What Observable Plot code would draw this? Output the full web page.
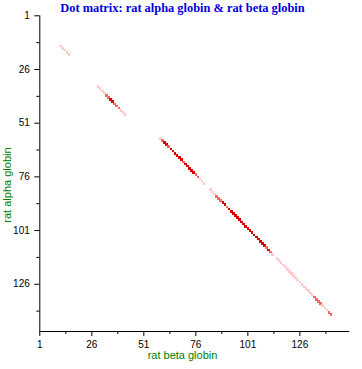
<!DOCTYPE html>
<html><head><meta charset="utf-8">
<script src="https://cdn.jsdelivr.net/npm/d3@7"></script>
<script src="https://cdn.jsdelivr.net/npm/@observablehq/plot@0.6"></script>
<style>body{margin:0;background:#fff} svg{display:block}</style>
</head><body><div id="chart"></div>
<script>
const titleText = "Dot matrix: rat alpha globin & rat beta globin";
const xLabel = "rat beta globin";
const yLabel = "rat alpha globin";
const majorTicks = [1, 26, 51, 76, 101, 126];
const minorTicks = [13.5, 38.5, 63.5, 88.5, 113.5, 138.5];
const xDomain = [1, 150];
const yDomain = [1, 148];
const levelColors = ["#ffcaca", "#ff6464", "#dc0000"];

// residue positions of the matching windows (x: rat beta, y: rat alpha)
const dotX = [
  11,12,13,14,15,
  29,30,31,32,33,34,35,36,37,38,39,40,41,42,
  59,60,61,62,63,64,65,66,67,68,69,70,71,72,73,74,75,76,77,78,79,80,
  83,84,85,86,87,88,89,90,91,92,93,94,95,96,97,98,99,100,101,102,103,104,105,106,107,108,109,110,111,112,113,
  115,116,117,118,119,120,121,122,123,124,125,126,127,128,129,130,131,132,133,134,135,136,137,138,139,140,141
];
const dotY = [
  15,16,17,18,19,
  34,35,36,37,38,39,40,41,42,43,44,45,46,47,
  58,59,60,61,62,63,64,65,66,67,68,69,70,71,72,73,74,75,76,77,78,79,
  82,83,84,85,86,87,88,89,90,91,92,93,94,95,96,97,98,99,100,101,102,103,104,105,106,107,108,109,110,111,112,
  114,115,116,117,118,119,120,121,122,123,124,125,126,127,128,129,130,131,132,133,134,135,136,137,138,139,140
];
// match strength: 1 weak, 2 medium, 3 strong
const dotLevel = [
  1,1,1,1,1,
  1,1,1,1,2,2,3,3,2,2,2,1,1,1,
  1,2,3,3,2,3,3,3,3,3,3,2,3,3,3,3,3,2,2,1,1,1,
  1,1,1,2,2,2,3,3,2,3,3,3,3,3,3,3,3,3,3,3,3,3,3,3,3,3,3,2,3,2,1,
  1,1,1,1,1,1,1,1,1,1,1,1,1,1,1,1,1,1,2,2,2,2,1,1,1,2,2
];

const data = dotX.map((x, i) => ({x, y: dotY[i], level: dotLevel[i]}));

const chart = Plot.plot({
  width: 362, height: 369,
  marginLeft: 39.3, marginTop: 15.3, marginRight: 12.7, marginBottom: 38,
  style: {fontFamily: "'Liberation Sans', Arial, sans-serif", fontSize: "10px", background: "#fff", color: "#000"},
  x: {domain: xDomain, label: null},
  y: {domain: yDomain, reverse: true, label: null},
  color: {type: "ordinal", domain: [1, 2, 3], range: levelColors},
  marks: [
    Plot.dot(data, {x: "x", y: "y", fill: "level", symbol: "square", r: 1.5, shapeRendering: "crispEdges"}),
    Plot.ruleX([xDomain[0]], {stroke: "#000"}),
    Plot.ruleY([yDomain[1]], {stroke: "#000"}),
    Plot.axisX(majorTicks, {anchor: "bottom", tickSize: 5, tickPadding: 4, label: null, fontSize: 10}),
    Plot.axisX(minorTicks, {anchor: "bottom", tickSize: 3, fill: "none", label: null}),
    Plot.axisY(majorTicks, {anchor: "left", tickSize: 5, tickPadding: 5, label: null, fontSize: 10}),
    Plot.axisY(minorTicks, {anchor: "left", tickSize: 3, fill: "none", label: null}),
    Plot.text([titleText], {text: d => d, frameAnchor: "top", dx: -12.3, dy: -7.3, lineAnchor: "middle", textAnchor: "middle",
      fill: "#0000dd", fontFamily: "'Liberation Serif', 'Times New Roman', serif", fontWeight: "bold", fontSize: 12.4}),
    Plot.text([xLabel], {text: d => d, frameAnchor: "bottom", dx: -12.3, dy: 24, lineAnchor: "middle", textAnchor: "middle", fill: "#008000", fontSize: 11}),
    Plot.text([yLabel], {text: d => d, frameAnchor: "left", rotate: -90, dx: -32.3, dy: 11.4, lineAnchor: "middle", textAnchor: "middle", fill: "#008000", fontSize: 11})
  ]
});
document.getElementById("chart").appendChild(chart);
</script>
</body></html>
